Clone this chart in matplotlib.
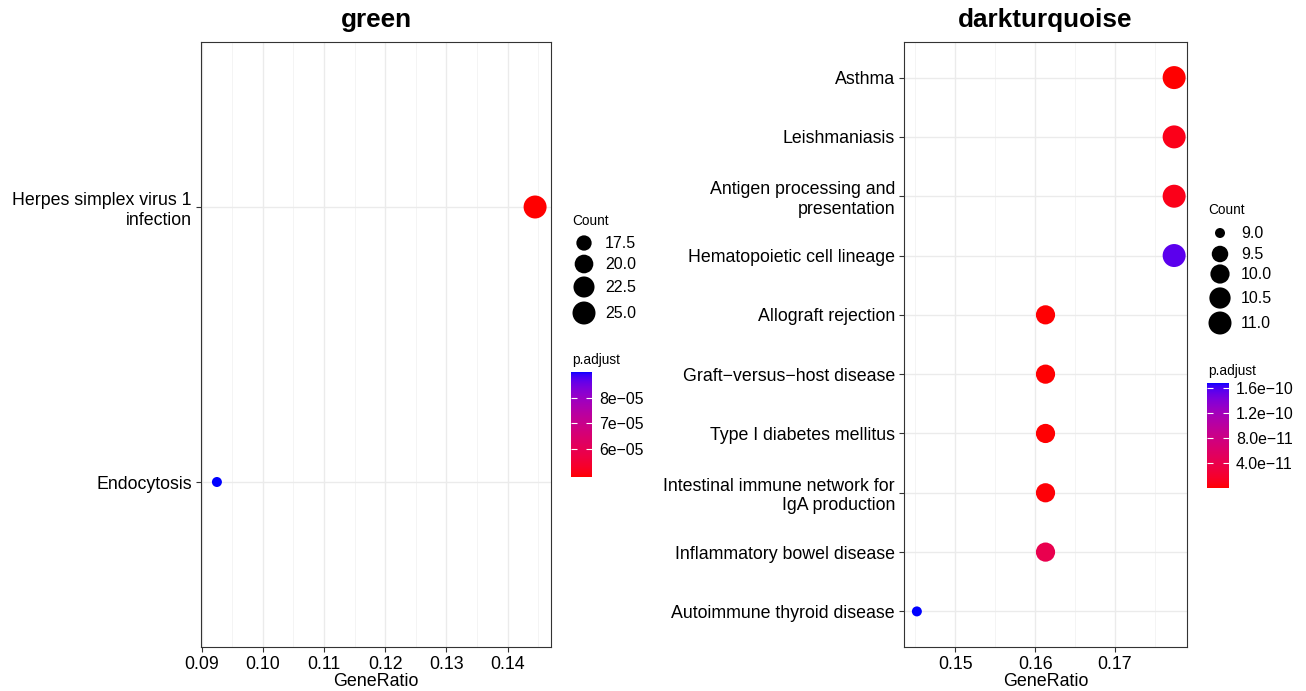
import numpy as np
import matplotlib
matplotlib.use("Agg")
import matplotlib.pyplot as plt
from matplotlib.colors import ListedColormap, Normalize
from matplotlib.ticker import AutoMinorLocator

plt.rcParams['font.family'] = ['Liberation Sans', 'DejaVu Sans']

# module "green"
green_terms = ["Herpes simplex virus 1\ninfection", "Endocytosis"]
green_ratio = [0.1445, 0.0925]
green_count = [25, 16]
green_padj = [4.9e-05, 9.0e-05]
green_ticks = [0.09, 0.10, 0.11, 0.12, 0.13, 0.14]
green_size_breaks = [17.5, 20.0, 22.5, 25.0]
green_cb_ticks = [6e-05, 7e-05, 8e-05]
green_cb_labels = ["6e\u221205", "7e\u221205", "8e\u221205"]

# module "darkturquoise"
dt_terms = ["Asthma", "Leishmaniasis", "Antigen processing and\npresentation",
            "Hematopoietic cell lineage", "Allograft rejection",
            "Graft\u2212versus\u2212host disease", "Type I diabetes mellitus",
            "Intestinal immune network for\nIgA production",
            "Inflammatory bowel disease", "Autoimmune thyroid disease"]
dt_ratio = [0.1774, 0.1774, 0.1774, 0.1774, 0.1613, 0.1613, 0.1613, 0.1613, 0.1613, 0.1452]
dt_count = [11, 11, 11, 11, 10, 10, 10, 10, 10, 9]
dt_padj = [1.0e-12, 9e-12, 9e-12, 1.55e-10, 2e-12, 2e-12, 2e-12, 3e-12, 4.2e-11, 1.68e-10]
dt_ticks = [0.15, 0.16, 0.17]
dt_size_breaks = [9.0, 9.5, 10.0, 10.5, 11.0]
dt_cb_ticks = [4e-11, 8e-11, 1.2e-10, 1.6e-10]
dt_cb_labels = ["4.0e\u221211", "8.0e\u221211", "1.2e\u221210", "1.6e\u221210"]


# red -> blue gradient interpolated in CIELAB like ggplot
def srgb_to_lab(rgb):
    c = np.asarray(rgb, float)
    lin = np.where(c <= 0.04045, c / 12.92, ((c + 0.055) / 1.055) ** 2.4)
    M = np.array([[0.4124, 0.3576, 0.1805], [0.2126, 0.7152, 0.0722], [0.0193, 0.1192, 0.9505]])
    xyz = M @ lin / np.array([0.95047, 1.0, 1.08883])
    d = 6 / 29
    f = np.where(xyz > d ** 3, np.cbrt(xyz), xyz / (3 * d * d) + 4 / 29)
    return np.array([116 * f[1] - 16, 500 * (f[0] - f[1]), 200 * (f[1] - f[2])])


def lab_to_srgb(lab):
    L, a, b = lab
    fy = (L + 16) / 116
    f = np.array([fy + a / 500, fy, fy - b / 200])
    d = 6 / 29
    xyz = np.where(f > d, f ** 3, 3 * d * d * (f - 4 / 29)) * np.array([0.95047, 1.0, 1.08883])
    M = np.array([[0.4124, 0.3576, 0.1805], [0.2126, 0.7152, 0.0722], [0.0193, 0.1192, 0.9505]])
    lin = np.linalg.solve(M, xyz)
    lin = np.clip(lin, 0, 1)
    c = np.where(lin <= 0.0031308, 12.92 * lin, 1.055 * lin ** (1 / 2.4) - 0.055)
    return np.clip(c, 0, 1)


lab_lo = srgb_to_lab([1, 0, 0])
lab_hi = srgb_to_lab([0, 0, 1])
cmap = ListedColormap([lab_to_srgb(lab_lo + t * (lab_hi - lab_lo)) for t in np.linspace(0, 1, 256)])


def diam_px(x, lo, hi):
    size = 3 + 5 * np.sqrt((np.asarray(x, float) - lo) / (hi - lo))
    return 2.6 * size + 2.2


def area(x, lo, hi):
    return (diam_px(x, lo, hi) * 0.72) ** 2


W, H = 1306, 691
fig = plt.figure(figsize=(W / 100, H / 100), dpi=100)


def px_axes(x0, y0, x1, y1):
    return fig.add_axes([x0 / W, 1 - y1 / H, (x1 - x0) / W, (y1 - y0) / H])


def panel(box, terms, ratio, count, padj, title, ticks):
    ax = px_axes(*box)
    n = len(terms)
    ypos = np.arange(n)[::-1]
    lo, hi = min(count), max(count)
    norm = Normalize(min(padj), max(padj))
    ax.scatter(ratio, ypos, s=area(count, lo, hi), c=padj, cmap=cmap, norm=norm,
               edgecolors='none', zorder=3)
    span = max(ratio) - min(ratio)
    ax.set_xlim(min(ratio) - 0.05 * span, max(ratio) + 0.05 * span)
    ax.set_ylim(-0.6, n - 1 + 0.6)
    ax.set_xticks(ticks)
    ax.set_xticklabels(["%.2f" % t for t in ticks])
    ax.xaxis.set_minor_locator(AutoMinorLocator(2))
    ax.set_yticks(ypos)
    ax.set_yticklabels(terms, multialignment='right', fontsize=12.8)
    ax.grid(which='major', color='#EBEBEB', lw=1.0, zorder=0)
    ax.grid(which='minor', axis='x', color='#F2F2F2', lw=0.6, zorder=0)
    ax.set_axisbelow(True)
    for s in ax.spines.values():
        s.set_color('#333333')
        s.set_linewidth(0.8)
    ax.tick_params(which='major', length=3.5, width=0.8, color='#333333',
                   labelcolor='black', pad=3)
    ax.tick_params(axis='x', labelsize=12.8)
    ax.tick_params(which='minor', length=0)
    cx = (box[0] + box[2]) / 2
    fig.text(cx / W, 1 - 20 / H, title, ha='center', va='center', fontsize=18.8, fontweight='bold')
    fig.text(cx / W, 1 - 682 / H, "GeneRatio", ha='center', va='center', fontsize=12.9)
    return norm, lo, hi


overlay = fig.add_axes([0, 0, 1, 1])
overlay.set_xlim(0, W)
overlay.set_ylim(H, 0)
overlay.axis('off')


def legends(norm, lo, hi, breaks, ys, title_y, circ_x, cb_box, cb_ticks, cb_labels):
    overlay.text(circ_x - 12, title_y, "Count", ha='left', va='center', fontsize=9.8)
    overlay.scatter([circ_x] * len(breaks), ys, s=area(breaks, lo, hi), c='black', edgecolors='none')
    for b, y in zip(breaks, ys):
        overlay.text(circ_x + 21, y, "%.1f" % b, ha='left', va='center', fontsize=11.5)
    overlay.text(cb_box[0] + 1, cb_box[1] - 12, "p.adjust", ha='left', va='center', fontsize=9.8)
    cax = px_axes(*cb_box)
    sm = plt.cm.ScalarMappable(norm=norm, cmap=cmap)
    cb = fig.colorbar(sm, cax=cax)
    cb.outline.set_visible(False)
    cb.set_ticks(cb_ticks)
    cb.set_ticklabels(cb_labels)
    cax.tick_params(left=True, right=True, labelleft=False, labelright=True, direction='in',
                    length=4, width=0.8, color='white', labelsize=11.4, pad=5)


n1 = panel((201, 42, 551, 647), green_terms, green_ratio, green_count, green_padj, "green", green_ticks)
n2 = panel((904, 42, 1187, 647), dt_terms, dt_ratio, dt_count, dt_padj, "darkturquoise", dt_ticks)

legends(*n1, green_size_breaks, [243, 264, 287, 313], 221, 584, (571, 372, 592, 477),
        green_cb_ticks, green_cb_labels)
legends(*n2, dt_size_breaks, [233, 254, 274, 298, 323], 210, 1220, (1207, 383, 1229, 488),
        dt_cb_ticks, dt_cb_labels)

fig.savefig("out.png", dpi=100)
